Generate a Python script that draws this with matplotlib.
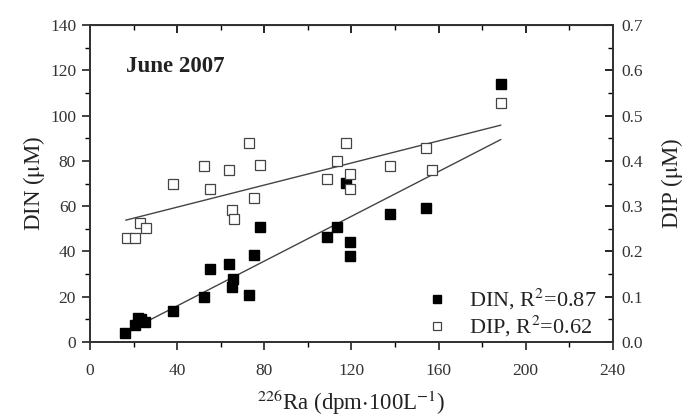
"""
Ra-226 vs nutrients, June 2007.
"""
import numpy as np
import matplotlib
matplotlib.use("Agg")
import matplotlib.pyplot as plt
from matplotlib.ticker import MultipleLocator, FormatStrFormatter

plt.rcParams['font.family'] = ['Liberation Serif', 'DejaVu Serif']
plt.rcParams['mathtext.fontset'] = 'stix'

# Ra-226 (dpm/100L)
ra_din = [16.1, 20.6, 22.2, 23.5, 25.2, 37.9, 52.3, 55.3, 63.9, 65.8, 65.0, 73.1,
          75.2, 78.0, 108.6, 113.2, 117.7, 119.3, 119.3, 137.6, 154.1, 188.5]
din = [4.1, 7.5, 10.5, 10.0, 9.0, 13.7, 19.7, 32.2, 34.3, 27.7, 24.2, 20.8,
       38.4, 50.7, 46.2, 50.7, 70.1, 44.0, 38.0, 56.4, 59.3, 114.0]

ra_dip = [17.1, 20.6, 22.9, 25.7, 37.9, 52.3, 55.3, 63.9, 65.0, 66.0, 73.1, 75.2,
          78.0, 108.6, 113.2, 117.7, 119.3, 119.3, 137.6, 154.1, 157.2, 188.5]
dip = [0.229, 0.229, 0.262, 0.251, 0.350, 0.389, 0.339, 0.380, 0.291, 0.271, 0.440, 0.319,
       0.391, 0.360, 0.400, 0.440, 0.371, 0.339, 0.389, 0.429, 0.380, 0.528]

# fitted lines: (slope, intercept)
din_fit = (0.495, -3.9)
dip_fit = (0.00122, 0.249)
fit_range = (16.5, 188.5)

fig = plt.figure(figsize=(6.87, 4.2), dpi=100)
ax = fig.add_axes([0.131, 0.186, 0.761, 0.754])
ax2 = ax.twinx()

xf = np.array(fit_range)
ax.plot(xf, din_fit[0] * xf + din_fit[1], color='#444444', lw=1.0)
ax2.plot(xf, dip_fit[0] * xf + dip_fit[1], color='#444444', lw=1.0)

h1, = ax.plot(ra_din, din, 's', color='black', ms=7.5, mec='black', ls='none', zorder=5)
h2, = ax2.plot(ra_dip, dip, 's', mfc='white', mec='#444444', mew=0.9, ms=7.5, ls='none', zorder=4)

ax.set_xlim(0, 240)
ax.set_ylim(0, 140)
ax2.set_ylim(0, 0.7)

ax.xaxis.set_major_locator(MultipleLocator(40))
ax.xaxis.set_minor_locator(MultipleLocator(20))
ax.yaxis.set_major_locator(MultipleLocator(20))
ax.yaxis.set_minor_locator(MultipleLocator(10))
ax2.yaxis.set_major_locator(MultipleLocator(0.1))
ax2.yaxis.set_minor_locator(MultipleLocator(0.05))
ax2.yaxis.set_major_formatter(FormatStrFormatter('%.1f'))

tc = '#333333'
ax.tick_params(axis='both', which='major', direction='out', length=6, width=1.2,
               labelsize=12.5, colors='#222222', labelcolor=tc, top=False, pad=4)
ax.tick_params(axis='x', which='major', pad=9)
ax.tick_params(axis='both', which='minor', direction='out', length=3.5, width=1.0, top=False)
top = ax.secondary_xaxis('top')
top.xaxis.set_major_locator(MultipleLocator(40))
top.xaxis.set_minor_locator(MultipleLocator(20))
top.tick_params(which='major', direction='in', length=6, width=1.2, labeltop=False)
top.tick_params(which='minor', direction='in', length=3.5, width=1.0)
ax2.tick_params(axis='y', which='major', direction='in', length=6, width=1.2,
                labelsize=12.5, labelcolor=tc, pad=6)
ax2.tick_params(axis='y', which='minor', direction='in', length=3.5, width=1.0)

for a in (ax, ax2):
    for s in a.spines.values():
        s.set_linewidth(1.3)
        s.set_color('#333333')

ax.set_xlabel(r'$^{226}$Ra (dpm$\cdot$100L$^{-1}$)', fontsize=16.5, color='#222222', labelpad=6)
ax.set_ylabel(r'DIN ($\mathrm{\mu}$M)', fontsize=16.5, color='#222222', labelpad=2)
ax2.set_ylabel(r'DIP ($\mathrm{\mu}$M)', fontsize=16.5, color='#222222', labelpad=12)

ax.text(0.069, 0.852, 'June 2007', transform=ax.transAxes, fontsize=16.5,
        fontweight='bold', color='#222222')

ax.legend([h1, h2], [r'DIN, R$^2$=0.87', r'DIP, R$^2$=0.62'], loc='lower right',
          bbox_to_anchor=(0.985, -0.02), frameon=False, fontsize=16,
          handletextpad=0.9, borderaxespad=0.0, labelspacing=0.1, markerscale=0.8,
          labelcolor='#222222', handlelength=1.0)

fig.savefig('out.png', dpi=100)
